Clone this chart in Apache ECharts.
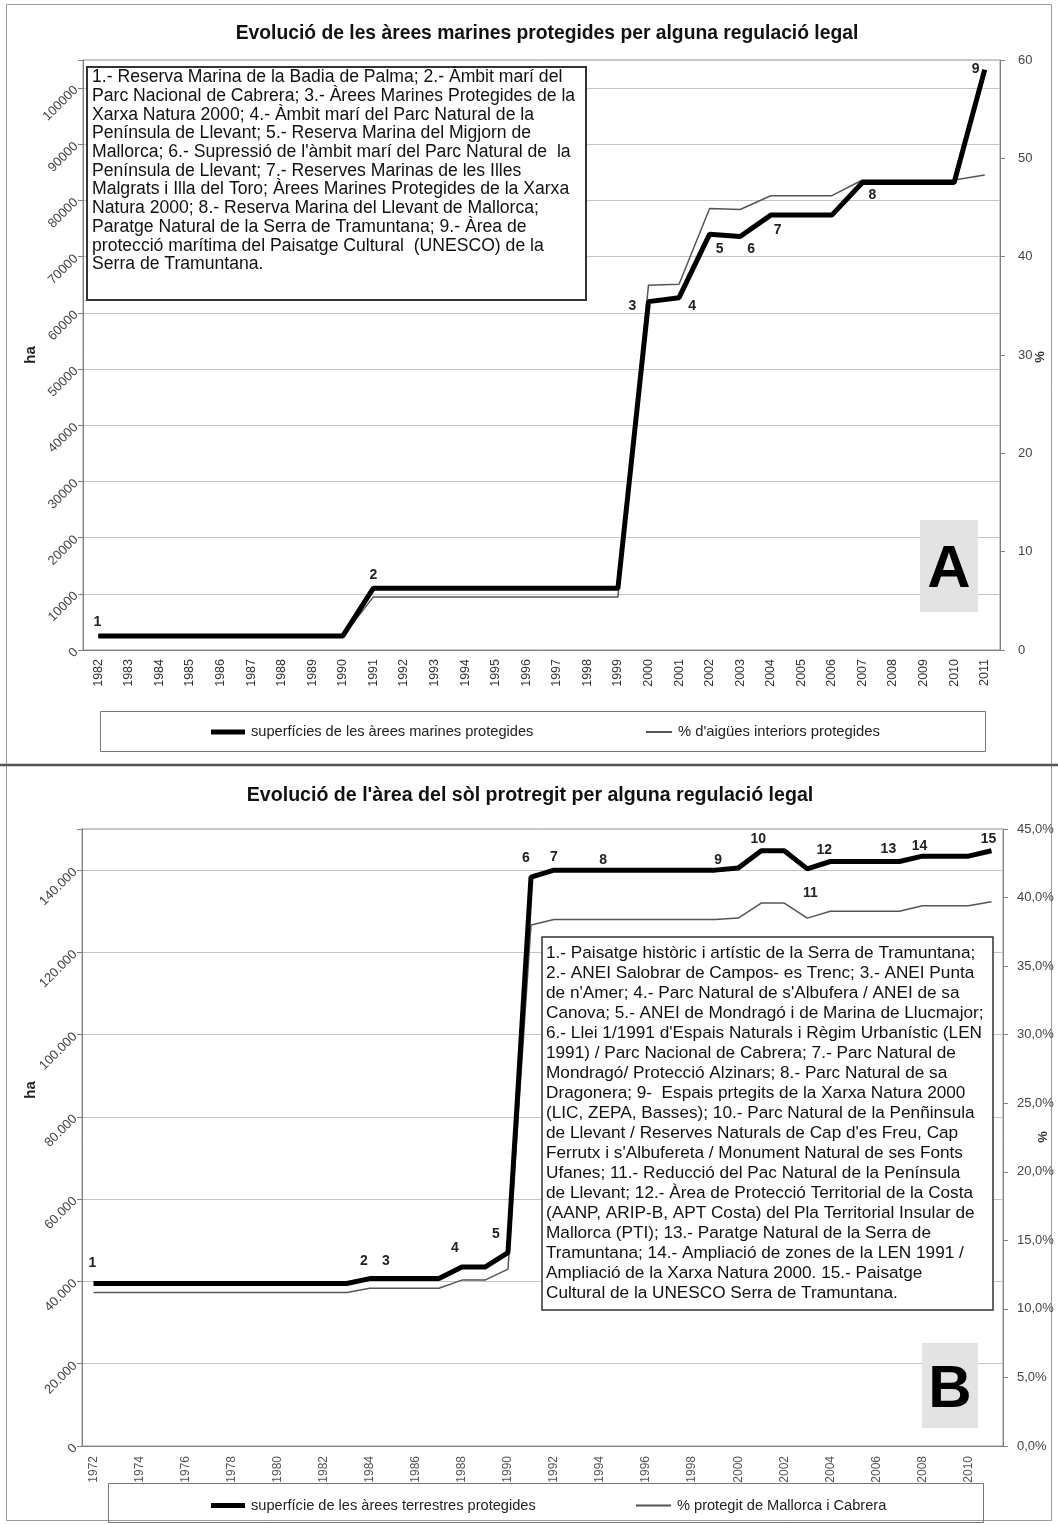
<!DOCTYPE html>
<html><head><meta charset="utf-8">
<script src="https://cdn.jsdelivr.net/npm/echarts@6/dist/echarts.min.js"></script>
<style>html,body{margin:0;padding:0;background:#fff}#c{width:1058px;height:1524px}</style>
</head><body><div id="c"></div>
<script>
// ---------- Chart A data ----------
const yearsA = ['1982','1983','1984','1985','1986','1987','1988','1989','1990','1991','1992','1993','1994','1995','1996','1997','1998','1999','2000','2001','2002','2003','2004','2005','2006','2007','2008','2009','2010','2011'];
const marineHa = [2500,2500,2500,2500,2500,2500,2500,2500,2500,11000,11000,11000,11000,11000,11000,11000,11000,11000,62000,62700,74000,73600,77400,77400,77400,83200,83200,83200,83200,103300];
const marinePct = [1.4,1.4,1.4,1.4,1.4,1.4,1.4,1.4,1.4,5.4,5.4,5.4,5.4,5.4,5.4,5.4,5.4,5.4,37.1,37.2,44.9,44.8,46.2,46.2,46.2,47.8,47.8,47.8,47.8,48.3];
const namesA = ['superfícies de les àrees marines protegides', "% d'aigües interiors protegides"];
const titleA = 'Evolució de les àrees marines protegides per alguna regulació legal';
const annotA = [['1982','1'],['1991','2'],['2000','3'],['2001','4'],['2002','5'],['2003','6'],['2004','7'],['2007','8'],['2011','9']];
const noteA = [
 "1.- Reserva Marina de la Badia de Palma; 2.- Àmbit marí del",
 "Parc Nacional de Cabrera; 3.- Àrees Marines Protegides de la",
 "Xarxa Natura 2000; 4.- Àmbit marí del Parc Natural de la",
 "Península de Llevant; 5.- Reserva Marina del Migjorn de",
 "Mallorca; 6.- Supressió de l'àmbit marí del Parc Natural de  la",
 "Península de Llevant; 7.- Reserves Marinas de les Illes",
 "Malgrats i Illa del Toro; Àrees Marines Protegides de la Xarxa",
 "Natura 2000; 8.- Reserva Marina del Llevant de Mallorca;",
 "Paratge Natural de la Serra de Tramuntana; 9.- Àrea de",
 "protecció marítima del Paisatge Cultural  (UNESCO) de la",
 "Serra de Tramuntana."
];

// ---------- Chart B data ----------
const yearsB = ['1972','1973','1974','1975','1976','1977','1978','1979','1980','1981','1982','1983','1984','1985','1986','1987','1988','1989','1990','1991','1992','1993','1994','1995','1996','1997','1998','1999','2000','2001','2002','2003','2004','2005','2006','2007','2008','2009','2010','2011'];
const terrHa = [39500,39500,39500,39500,39500,39500,39500,39500,39500,39500,39500,39500,40700,40700,40700,40700,43500,43500,47000,138300,140000,140000,140000,140000,140000,140000,140000,140000,140500,144700,144700,140300,142100,142100,142100,142100,143400,143400,143400,144700];
const terrPct = [11.2,11.2,11.2,11.2,11.2,11.2,11.2,11.2,11.2,11.2,11.2,11.2,11.5,11.5,11.5,11.5,12.1,12.1,12.9,38.0,38.4,38.4,38.4,38.4,38.4,38.4,38.4,38.4,38.5,39.6,39.6,38.5,39.0,39.0,39.0,39.0,39.4,39.4,39.4,39.7];
const namesB = ['superfície de les àrees terrestres protegides', '% protegit de Mallorca i Cabrera'];
const titleB = "Evolució de l'àrea del sòl protregit per alguna regulació legal";
const annotB = [['1972','1'],['1984','2'],['1985','3'],['1988','4'],['1990','5'],['1991','6'],['1992','7'],['1994','8'],['1999','9'],['2001','10'],['2004','12'],['2007','13'],['2008','14'],['2011','15']];
const annotBPct = [['2003','11']];
const noteB = [
 "1.- Paisatge històric i artístic de la Serra de Tramuntana;",
 "2.- ANEI Salobrar de Campos- es Trenc; 3.- ANEI Punta",
 "de n'Amer; 4.- Parc Natural de s'Albufera / ANEI de sa",
 "Canova; 5.- ANEI de Mondragó i de Marina de Llucmajor;",
 "6.- Llei 1/1991 d'Espais Naturals i Règim Urbanístic (LEN",
 "1991) / Parc Nacional de Cabrera; 7.- Parc Natural de",
 "Mondragó/ Protecció Alzinars; 8.- Parc Natural de sa",
 "Dragonera; 9-  Espais prtegits de la Xarxa Natura 2000",
 "(LIC, ZEPA, Basses); 10.- Parc Natural de la Penñinsula",
 "de Llevant / Reserves Naturals de Cap d'es Freu, Cap",
 "Ferrutx i s'Albufereta / Monument Natural de ses Fonts",
 "Ufanes; 11.- Reducció del Pac Natural de la Península",
 "de Llevant; 12.- Àrea de Protecció Territorial de la Costa",
 "(AANP, ARIP-B, APT Costa) del Pla Territorial Insular de",
 "Mallorca (PTI); 13.- Paratge Natural de la Serra de",
 "Tramuntana; 14.- Ampliació de zones de la LEN 1991 /",
 "Ampliació de la Xarxa Natura 2000. 15.- Paisatge",
 "Cultural de la UNESCO Serra de Tramuntana."
];

// ---------- styling / layout ----------
const FONT = '"Liberation Sans", Arial, sans-serif';
const placeA = {'1':[-1,-14],'2':[0,-13],'3':[-16,5],'4':[13,8],'5':[10,15],'6':[11,13],'7':[7,15],'8':[10,13],'9':[-9,0]};
const placeB = {'1':[-1,-20],'2':[-6,-17],'3':[-7,-17],'4':[-7,-19],'5':[-12,-19],'6':[-5,-19],'7':[0,-13],'8':[3,-10],'9':[3,-10],'10':[-3,-12],'11':[3,-25],'12':[-6,-11],'13':[-11,-12],'14':[-3,-10],'15':[-3,-12]};

function marks(annots, years, values, place) {
  return annots.map(([yr, txt]) => {
    const i = years.indexOf(yr);
    return {coord: [yr, values[i]], value: txt,
      label: {offset: place[txt] || [0, -12]}};
  });
}
const mpBase = {
  symbol: 'circle', symbolSize: 1, silent: true, animation: false,
  itemStyle: {color: 'rgba(0,0,0,0)'},
  label: {show: true, position: 'inside', formatter: p => p.value, fontFamily: FONT,
          fontWeight: 'bold', fontSize: 14, color: '#222'}
};
const axisGray = '#808080';
const dots = v => String(v).replace(/\B(?=(\d{3})+(?!\d))/g, '.');
function leg(name, left, top, w, h, color, fs) {
  return {data: [{name: name, icon: 'rect', itemStyle: {color: color}}], left: left, top: top, padding: 0,
    itemWidth: w, itemHeight: h, selectedMode: false,
    textStyle: {fontSize: fs, color: '#222', fontFamily: FONT, padding: [0, 0, 0, 1]}};
}

const option = {
  animation: false,
  backgroundColor: '#fff',
  textStyle: {fontFamily: FONT},
  title: [
    {text: titleA, left: 547, top: 24, textAlign: 'center', padding: 0,
     textStyle: {fontFamily: FONT, fontSize: 19.3, fontWeight: 'bold', color: '#111'}},
    {text: titleB, left: 530, top: 786, textAlign: 'center', padding: 0,
     textStyle: {fontFamily: FONT, fontSize: 19.6, fontWeight: 'bold', color: '#111'}}
  ],
  grid: [
    {left: 83, top: 60, width: 917, height: 590, show: true, borderColor: '#999', borderWidth: 1},
    {left: 82, top: 829, width: 921, height: 617, show: true, borderColor: '#999', borderWidth: 1}
  ],
  legend: [
    leg(namesA[0], 211, 724.5, 34, 5, '#000', 14.6),
    leg(namesA[1], 646, 724.5, 26, 2, '#555', 14.8),
    leg(namesB[0], 211, 1498, 34, 5, '#000', 14.6),
    leg(namesB[1], 636, 1498, 35, 2, '#555', 14.6)
  ],
  xAxis: [
    {type: 'category', gridIndex: 0, data: yearsA, boundaryGap: true,
     axisLine: {lineStyle: {color: axisGray}}, axisTick: {interval: 0, length: 5, lineStyle: {color: axisGray}},
     axisLabel: {interval: 0, rotate: 90, fontSize: 12.5, color: '#333', margin: 9}},
    {type: 'category', gridIndex: 1, data: yearsB, boundaryGap: true,
     axisLine: {lineStyle: {color: axisGray}}, axisTick: {interval: 0, length: 5, lineStyle: {color: axisGray}},
     axisLabel: {interval: 1, rotate: 90, fontSize: 12, color: '#555', margin: 10}}
  ],
  yAxis: [
    {type: 'value', gridIndex: 0, position: 'left', min: 0, max: 105000, interval: 10000,
     axisLine: {show: true, lineStyle: {color: axisGray}}, axisTick: {show: true, length: 5, lineStyle: {color: axisGray}},
     splitLine: {show: true, lineStyle: {color: '#c4c4c4', width: 1}},
     axisLabel: {rotate: 45, fontSize: 13, color: '#444', margin: 7, formatter: v => v > 100000 ? '' : String(v)}},
    {type: 'value', gridIndex: 0, position: 'right', min: 0, max: 60, interval: 10,
     axisLine: {show: true, lineStyle: {color: axisGray}}, axisTick: {show: true, length: 5, lineStyle: {color: axisGray}},
     splitLine: {show: false},
     axisLabel: {fontSize: 13, color: '#444', margin: 18}},
    {type: 'value', gridIndex: 1, position: 'left', min: 0, max: 150000, interval: 20000,
     axisLine: {show: true, lineStyle: {color: axisGray}}, axisTick: {show: true, length: 5, lineStyle: {color: axisGray}},
     splitLine: {show: true, lineStyle: {color: '#c4c4c4', width: 1}},
     axisLabel: {rotate: 45, fontSize: 13, color: '#444', margin: 7, formatter: v => v > 140000 ? '' : dots(v)}},
    {type: 'value', gridIndex: 1, position: 'right', min: 0, max: 45, interval: 5,
     axisLine: {show: true, lineStyle: {color: axisGray}}, axisTick: {show: true, length: 5, lineStyle: {color: axisGray}},
     splitLine: {show: false},
     axisLabel: {fontSize: 13, color: '#444', margin: 14, formatter: v => v.toFixed(1).replace('.', ',') + '%'}}
  ],
  series: [
    {name: namesA[1], type: 'line', xAxisIndex: 0, yAxisIndex: 1, data: marinePct, symbol: 'none', z: 3,
     lineStyle: {color: '#555', width: 1.5}, itemStyle: {color: '#555'}},
    {name: namesA[0], type: 'line', xAxisIndex: 0, yAxisIndex: 0, data: marineHa, symbol: 'none', z: 4,
     lineStyle: {color: '#000', width: 5}, itemStyle: {color: '#000'},
     markPoint: Object.assign({}, mpBase, {data: marks(annotA, yearsA, marineHa, placeA)})},
    {name: namesB[1], type: 'line', xAxisIndex: 1, yAxisIndex: 3, data: terrPct, symbol: 'none', z: 3,
     lineStyle: {color: '#555', width: 1.5}, itemStyle: {color: '#555'},
     markPoint: Object.assign({}, mpBase, {data: marks(annotBPct, yearsB, terrPct, placeB)})},
    {name: namesB[0], type: 'line', xAxisIndex: 1, yAxisIndex: 2, data: terrHa, symbol: 'none', z: 4,
     lineStyle: {color: '#000', width: 5}, itemStyle: {color: '#000'},
     markPoint: Object.assign({}, mpBase, {data: marks(annotB, yearsB, terrHa, placeB)})}
  ],
  graphic: [
    // outer frames
    {type: 'rect', z: -1, shape: {x: 6.5, y: 4.5, width: 1045, height: 760}, style: {fill: 'none', stroke: '#9a9a9a', lineWidth: 1}},
    {type: 'rect', z: -1, shape: {x: 6.5, y: 765.5, width: 1045, height: 755}, style: {fill: 'none', stroke: '#9a9a9a', lineWidth: 1}},
    {type: 'line', z: -1, shape: {x1: 0, y1: 765, x2: 1058, y2: 765}, style: {stroke: '#555', lineWidth: 2.5}},
    // legend frames
    {type: 'rect', z: -1, shape: {x: 100.5, y: 711.5, width: 885, height: 40}, style: {fill: 'none', stroke: '#777', lineWidth: 1}},
    {type: 'rect', z: -1, shape: {x: 108.5, y: 1483.5, width: 875, height: 39}, style: {fill: 'none', stroke: '#777', lineWidth: 1}},
    // axis names
    {type: 'text', x: 31, y: 355, rotation: Math.PI / 2, style: {text: 'ha', font: 'bold 15px ' + FONT, fill: '#222', align: 'center', verticalAlign: 'middle'}},
    {type: 'text', x: 1040, y: 357, rotation: Math.PI / 2, style: {text: '%', font: 'bold 13px ' + FONT, fill: '#333', align: 'center', verticalAlign: 'middle'}},
    {type: 'text', x: 31, y: 1090, rotation: Math.PI / 2, style: {text: 'ha', font: 'bold 15px ' + FONT, fill: '#222', align: 'center', verticalAlign: 'middle'}},
    {type: 'text', x: 1043, y: 1137, rotation: Math.PI / 2, style: {text: '%', font: 'bold 13px ' + FONT, fill: '#333', align: 'center', verticalAlign: 'middle'}},
    // note boxes
    {type: 'rect', z: 50, shape: {x: 87, y: 67, width: 499, height: 233}, style: {fill: '#fff', stroke: '#333', lineWidth: 2}},
    {type: 'text', z: 51, x: 92, y: 68, style: {text: noteA.join('\n'), font: '17.6px ' + FONT, lineHeight: 18.7, fill: '#111', verticalAlign: 'top'}},
    {type: 'rect', z: 50, shape: {x: 542, y: 937, width: 451, height: 373}, style: {fill: '#fff', stroke: '#333', lineWidth: 1.5}},
    {type: 'text', z: 51, x: 546, y: 943, style: {text: noteB.join('\n'), font: '17.2px ' + FONT, lineHeight: 20, fill: '#111', verticalAlign: 'top'}},
    // panel letters
    {type: 'rect', z: 50, shape: {x: 920, y: 520, width: 58, height: 92}, style: {fill: '#e3e3e3'}},
    {type: 'text', z: 51, x: 949, y: 570, style: {text: 'A', font: 'bold 60px ' + FONT, fill: '#000', align: 'center', verticalAlign: 'middle'}},
    {type: 'rect', z: 50, shape: {x: 922, y: 1343, width: 56, height: 85}, style: {fill: '#e3e3e3'}},
    {type: 'text', z: 51, x: 950, y: 1390, style: {text: 'B', font: 'bold 60px ' + FONT, fill: '#000', align: 'center', verticalAlign: 'middle'}}
  ]
};
const chart = echarts.init(document.getElementById('c'), null, {renderer: 'canvas'});
chart.setOption(option);
</script>
</body></html>
